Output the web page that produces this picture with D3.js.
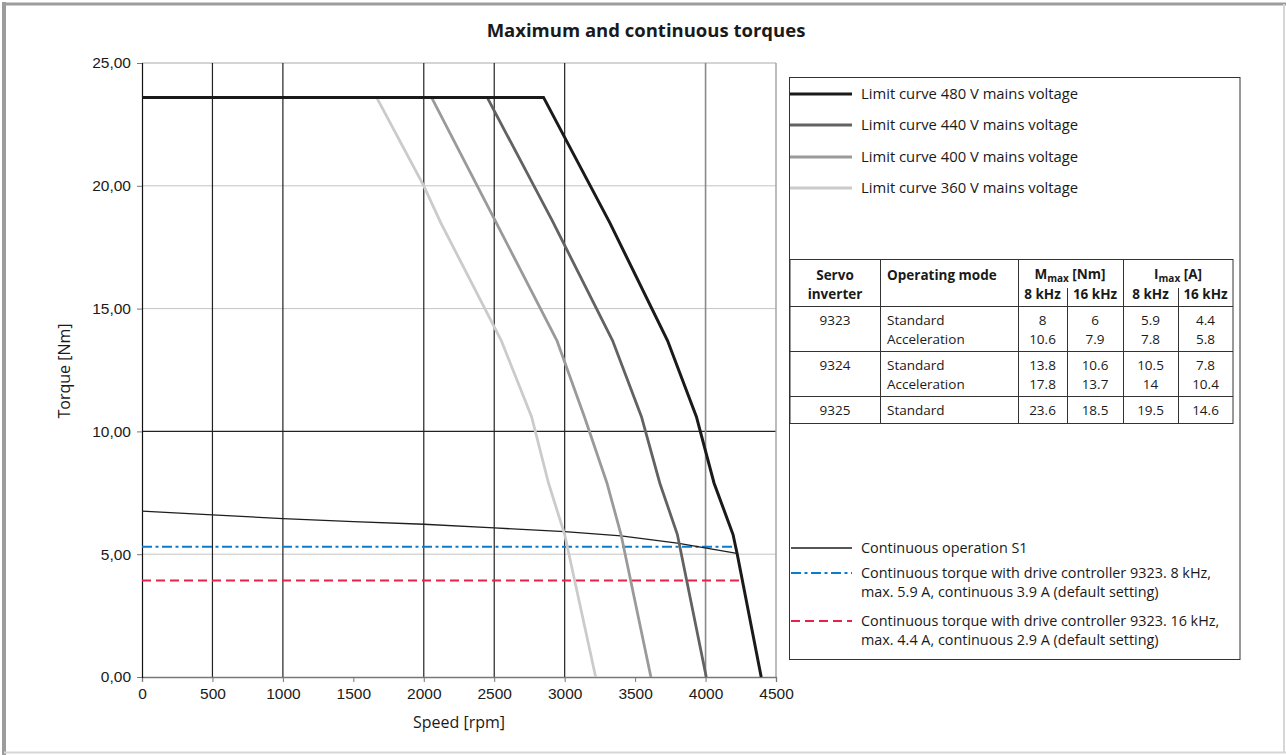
<!DOCTYPE html>
<html><head><meta charset="utf-8">
<script src="https://cdn.jsdelivr.net/npm/d3@7"></script>
<style>
html,body{margin:0;padding:0;background:#fff;}
svg{display:block;}
.lab{font-family:"Open Sans",sans-serif;fill:#1a1a1a;}
</style></head>
<body>
<svg id="c" width="1286" height="755"></svg>
<script>
// ---------- data ----------
const speedTicks = [0,500,1000,1500,2000,2500,3000,3500,4000,4500];
const torqueTicks = [0,5,10,15,20,25];
const curve480 = [[0,23.6],[2850,23.6],[3320,18.5],[3730,13.7],[3935,10.6],[4060,7.9],[4195,5.8],[4225,5.0],[4395,0]];
const curve440 = [[2450,23.6],[2910,18.6],[3340,13.7],[3545,10.6],[3675,7.9],[3800,5.8],[4005,0]];
const curve400 = [[2055,23.6],[2505,18.6],[2945,13.7],[3140,10.6],[3300,7.9],[3400,5.8],[3612,0]];
const curve360 = [[1665,23.6],[2000,20.0],[2120,18.5],[2550,13.7],[2765,10.6],[2885,7.9],[3000,5.8],[3220,0]];
const continuousS1 = [[0,6.75],[500,6.6],[1000,6.45],[1500,6.33],[2000,6.22],[2500,6.07],[3000,5.92],[3400,5.75],[3800,5.45],[4222,5.03]];
const torque8kHz = [[0,5.3],[4210,5.3]];
const torque16kHz = [[0,3.93],[4265,3.93]];
const limitLabels = ["Limit curve 480 V mains voltage","Limit curve 440 V mains voltage","Limit curve 400 V mains voltage","Limit curve 360 V mains voltage"];
const contLabels = [["Continuous operation S1"],
  ["Continuous torque with drive controller 9323. 8 kHz,","max. 5.9 A, continuous 3.9 A (default setting)"],
  ["Continuous torque with drive controller 9323. 16 kHz,","max. 4.4 A, continuous 2.9 A (default setting)"]];
const tblInverter = ["9323","9324","9325"];
const tblModes = [["Standard","Acceleration"],["Standard","Acceleration"],["Standard"]];
const tblM8 = [["8","10.6"],["13.8","17.8"],["23.6"]];
const tblM16 = [["6","7.9"],["10.6","13.7"],["18.5"]];
const tblI8 = [["5.9","7.8"],["10.5","14"],["19.5"]];
const tblI16 = [["4.4","5.8"],["7.8","10.4"],["14.6"]];

// ---------- layout ----------
const svg = d3.select("#c");
const L=142, R=776, T=63, B=677;
const x = d3.scaleLinear().domain([0,4500]).range([L,R]);
const y = d3.scaleLinear().domain([0,25]).range([B,T]);

// outer frame
svg.append("line").attr("x1",4).attr("x2",4).attr("y1",2).attr("y2",755).attr("stroke","#9c9c9c").attr("stroke-width",4);
svg.append("line").attr("x1",2).attr("x2",1286).attr("y1",4).attr("y2",4).attr("stroke","#9c9c9c").attr("stroke-width",3);
svg.append("line").attr("x1",1284).attr("x2",1284).attr("y1",4).attr("y2",753).attr("stroke","#d6d6d6").attr("stroke-width",2);
svg.append("line").attr("x1",4).attr("x2",1286).attr("y1",752.5).attr("y2",752.5).attr("stroke","#d6d6d6").attr("stroke-width",2);

// title
svg.append("text").attr("class","lab").attr("x",646).attr("y",37).attr("text-anchor","middle")
  .attr("font-size",18.5).attr("font-weight","bold").text("Maximum and continuous torques");

// gridlines
const g = svg.append("g");
torqueTicks.filter(t=>t>0).forEach(t=>{
  g.append("line").attr("x1",L).attr("x2",R).attr("y1",y(t)).attr("y2",y(t))
   .attr("stroke", t===10 ? "#222" : (t===25 ? "#aaa" : "#c4c4c4")).attr("stroke-width", t===10?1.2:1);
});
speedTicks.forEach(s=>{
  if (s===0 || s===1500 || s===3500) return;
  let col = "#222", w = 1.2;
  if (s===4000){col="#8a8a8a"; w=1.6;}
  if (s===4500){col="#a0a0a0"; w=1.4;}
  g.append("line").attr("x1",x(s)).attr("x2",x(s)).attr("y1",T).attr("y2",B).attr("stroke",col).attr("stroke-width",w);
});

// axes
const xAxis = d3.axisBottom(x).tickValues(speedTicks).tickSize(5).tickPadding(6).tickFormat(d3.format("d"));
const gx = svg.append("g").attr("transform",`translate(0,${B})`).call(xAxis);
gx.select(".domain").attr("stroke","#777").attr("stroke-width",1.3);
gx.selectAll(".tick line").attr("stroke","#777");
gx.selectAll(".tick text").attr("font-size",15.5).attr("font-family","Liberation Sans, Arial").attr("fill","#1a1a1a");

const yAxis = d3.axisLeft(y).tickValues(torqueTicks).tickSize(5).tickPadding(6).tickFormat(d=>d3.format(".2f")(d).replace(".",","));
const gy = svg.append("g").attr("transform",`translate(${L},0)`).call(yAxis);
gy.select(".domain").attr("stroke","#111").attr("stroke-width",1.2);
gy.selectAll(".tick line").attr("stroke","#777");
gy.selectAll(".tick text").attr("font-size",15.5).attr("font-family","Liberation Sans, Arial").attr("fill","#1a1a1a");

// axis titles
svg.append("text").attr("class","lab").attr("x",459).attr("y",728).attr("text-anchor","middle").attr("font-size",16).text("Speed [rpm]");
svg.append("text").attr("class","lab").attr("transform","translate(70,371) rotate(-90)").attr("text-anchor","middle").attr("font-size",16).text("Torque [Nm]");

// series
const line = d3.line().x(d=>x(d[0])).y(d=>y(d[1]));
const series = [
  {d:torque16kHz, c:"#e8204a", w:2, dash:"9,5"},
  {d:torque8kHz, c:"#0a7ccc", w:2, dash:"10,3.5,3,3.5"},
  {d:continuousS1, c:"#1e1e1e", w:1.3},
  {d:curve360, c:"#cbcbcb", w:2.8},
  {d:curve400, c:"#9a9a9a", w:2.8},
  {d:curve440, c:"#626262", w:2.8},
  {d:curve480, c:"#1a1a1a", w:3}
];
series.forEach(s=>{
  svg.append("path").attr("d",line(s.d)).attr("fill","none").attr("stroke",s.c)
    .attr("stroke-width",s.w).attr("stroke-dasharray",s.dash||null).attr("stroke-linejoin","miter");
});

// legend box
svg.append("rect").attr("x",789.5).attr("y",77.5).attr("width",450.5).attr("height",582).attr("fill","none").attr("stroke","#333").attr("stroke-width",1);
const limStyles = [{c:"#1a1a1a",w:3},{c:"#626262",w:2.8},{c:"#9a9a9a",w:2.8},{c:"#cbcbcb",w:2.8}];
const limY = [94,125,157,188];
limitLabels.forEach((t,i)=>{
  svg.append("line").attr("x1",790).attr("x2",852).attr("y1",limY[i]).attr("y2",limY[i]).attr("stroke",limStyles[i].c).attr("stroke-width",limStyles[i].w);
  svg.append("text").attr("class","lab").attr("x",861).attr("y",limY[i]+5).attr("font-size",14.8).text(t);
});
const contStyles = [{c:"#1e1e1e",w:1.5},{c:"#0a7ccc",w:2,dash:"10,3.5,3,3.5"},{c:"#e8204a",w:2,dash:"9,5"}];
const contY = [548,573,621];
contLabels.forEach((ls,i)=>{
  svg.append("line").attr("x1",791).attr("x2",852).attr("y1",contY[i]).attr("y2",contY[i]).attr("stroke",contStyles[i].c)
    .attr("stroke-width",contStyles[i].w).attr("stroke-dasharray",contStyles[i].dash||null);
  ls.forEach((t,j)=>{
    svg.append("text").attr("class","lab").attr("x",861).attr("y",contY[i]+5+j*19).attr("font-size",14.4).text(t);
  });
});

// table
const tb = svg.append("g");
const tL=790, tR=1233, tTop=259.5, tHead=306.5, rowB=[351.5,396.5,423.5];
const colX=[790,880,1018,1067,1123,1178,1233];
const stroke="#333";
tb.append("rect").attr("x",tL).attr("y",tTop).attr("width",tR-tL).attr("height",rowB[2]-tTop).attr("fill","none").attr("stroke",stroke);
[tHead,rowB[0],rowB[1]].forEach(yy=>tb.append("line").attr("x1",tL).attr("x2",tR).attr("y1",yy).attr("y2",yy).attr("stroke",stroke));
[1,2,4].forEach(i=>tb.append("line").attr("x1",colX[i]+.5).attr("x2",colX[i]+.5).attr("y1",tTop).attr("y2",rowB[2]).attr("stroke",stroke));
[3,5].forEach(i=>tb.append("line").attr("x1",colX[i]+.5).attr("x2",colX[i]+.5).attr("y1",288).attr("y2",rowB[2]).attr("stroke",stroke));
const txt=(xx,yy,t,anchor,bold)=>tb.append("text").attr("class","lab").attr("x",xx).attr("y",yy)
  .attr("text-anchor",anchor).attr("font-size",13.5).attr("font-weight",bold?"bold":null).text(t);
const cc=i=>(colX[i]+colX[i+1])/2;
txt(cc(0),280,"Servo","middle",true);
txt(cc(0),299,"inverter","middle",true);
txt(887,280,"Operating mode","start",true);
const sub=(xx,base,rest)=>{
  const t=tb.append("text").attr("class","lab").attr("x",xx).attr("y",279).attr("text-anchor","middle").attr("font-size",13.5).attr("font-weight","bold");
  t.append("tspan").text(base);
  t.append("tspan").attr("font-size",10).attr("dy",2.5).text("max");
  t.append("tspan").attr("dy",-2.5).text(rest);
};
sub(1070,"M"," [Nm]");
sub(1178,"I"," [A]");
txt(cc(2),299,"8 kHz","middle",true);
txt(cc(3),299,"16 kHz","middle",true);
txt(cc(4),299,"8 kHz","middle",true);
txt(cc(5),299,"16 kHz","middle",true);
const rowY=[325,370,415];
tblInverter.forEach((inv,r)=>{
  txt(cc(0),rowY[r],inv,"middle");
  tblModes[r].forEach((m,j)=>txt(887,rowY[r]+j*19,m,"start"));
  [tblM8,tblM16,tblI8,tblI16].forEach((arr,k)=>{
    arr[r].forEach((v,j)=>txt(cc(k+2),rowY[r]+j*19,v,"middle"));
  });
});
</script>
</body></html>
